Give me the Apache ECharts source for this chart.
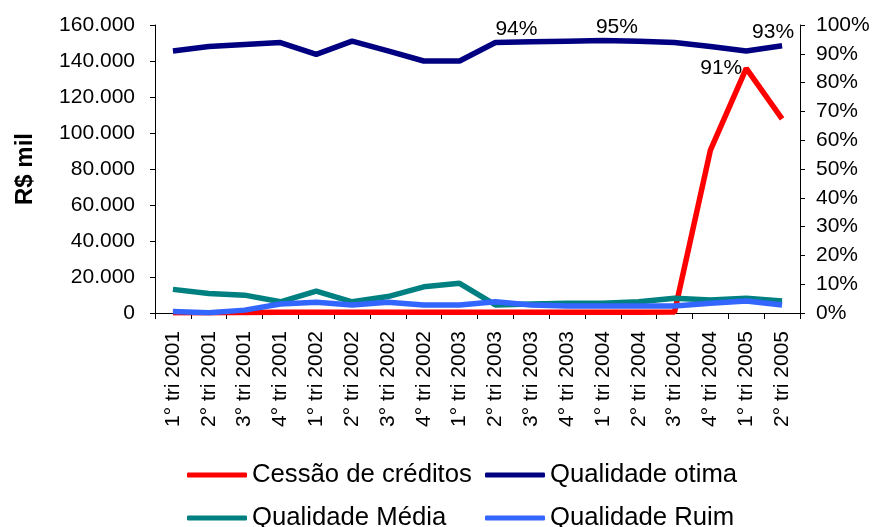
<!DOCTYPE html>
<html>
<head>
<meta charset="utf-8">
<script src="https://cdn.jsdelivr.net/npm/echarts@6/dist/echarts.min.js"></script>
<style>html,body{margin:0;padding:0;background:#fff}#c{width:873px;height:527px}</style>
</head>
<body>
<div id="c"></div>
<script>
const categories = ['1° tri 2001','2° tri 2001','3° tri 2001','4° tri 2001','1° tri 2002','2° tri 2002','3° tri 2002','4° tri 2002','1° tri 2003','2° tri 2003','3° tri 2003','4° tri 2003','1° tri 2004','2° tri 2004','3° tri 2004','4° tri 2004','1° tri 2005','2° tri 2005'];
const cessao = [200,200,300,400,400,400,400,400,400,400,400,400,400,400,600,90500,135900,107800];
const otima = [91.0,92.5,93.2,93.9,89.8,94.4,91.0,87.5,87.5,93.9,94.2,94.4,94.6,94.4,93.9,92.5,91.0,92.8];
const media = [8.2,6.8,6.2,3.9,7.6,3.9,5.7,9.1,10.3,2.8,3.1,3.4,3.4,3.9,5.1,4.5,5.1,4.2];
const ruim = [0.5,0.1,1.0,3.1,3.7,2.8,3.7,2.8,2.8,3.9,2.8,2.4,2.4,2.4,2.4,3.4,4.2,2.8];
const seriesNames = ['Cessão de créditos', 'Qualidade otima', 'Qualidade Média', 'Qualidade Ruim'];
const leftTicks = {min: 0, max: 160000, interval: 20000};
const rightTicks = {min: 0, max: 100, interval: 10};
const labelledOtima = [9, 12, 16, 17];

const FONT = 'Liberation Sans, Arial, sans-serif';
const labelStyle = {
  9: {position: 'top', offset: [21, 2]},
  12: {position: 'top', offset: [14, 2]},
  16: {position: 'bottom', offset: [-25, 2]},
  17: {position: 'top', offset: [-9, 2]}
};
const otimaData = otima.map((v, i) => {
  if (labelledOtima.indexOf(i) < 0) return v;
  return {value: v, label: Object.assign({show: true, fontSize: 21, color: '#000', fontFamily: FONT,
    formatter: p => Math.round(p.value) + '%'}, labelStyle[i])};
});

// legend grid: [left, top] per item
const legendPos = [[187, 460], [485, 460], [187, 503], [485, 503]];
const legends = seriesNames.map((n, i) => ({
  data: [n], orient: 'horizontal', left: legendPos[i][0], top: legendPos[i][1],
  itemWidth: 60, itemHeight: 5, icon: 'roundRect', padding: 0,
  textStyle: {fontSize: 25.7, color: '#000', fontFamily: FONT, lineHeight: 30}
}));

const chart = echarts.init(document.getElementById('c'));
const axisLine = {show: true, lineStyle: {color: '#000', width: 1}};
chart.setOption({
  animation: false,
  textStyle: {fontFamily: FONT},
  grid: {left: 155, right: 73, top: 25, bottom: 214},
  legend: legends,
  xAxis: {
    type: 'category', data: categories, boundaryGap: true,
    axisLine: axisLine,
    axisTick: {show: true, length: 6, alignWithLabel: false, lineStyle: {color: '#000'}},
    axisLabel: {interval: 0, rotate: 90, fontSize: 21, color: '#000', margin: 18, fontFamily: FONT},
    splitLine: {show: false}
  },
  yAxis: [
    {type: 'value', min: leftTicks.min, max: leftTicks.max, interval: leftTicks.interval,
     name: 'R$ mil', nameLocation: 'middle', nameRotate: 90, nameGap: 118,
     nameTextStyle: {fontSize: 24, fontWeight: 'bold', color: '#000', fontFamily: FONT},
     axisLine: axisLine,
     axisTick: {show: true, length: 5, lineStyle: {color: '#000'}},
     axisLabel: {fontSize: 21, color: '#000', margin: 20, fontFamily: FONT,
       formatter: v => v === 0 ? '0' : (v / 1000) + '.000'},
     splitLine: {show: false}},
    {type: 'value', min: rightTicks.min, max: rightTicks.max, interval: rightTicks.interval,
     position: 'right',
     axisLine: axisLine,
     axisTick: {show: true, length: 5, lineStyle: {color: '#000'}},
     axisLabel: {fontSize: 21, color: '#000', margin: 16, fontFamily: FONT, formatter: '{value}%'},
     splitLine: {show: false}}
  ],
  series: [
    {name: seriesNames[0], type: 'line', yAxisIndex: 0, data: cessao, symbol: 'none',
     itemStyle: {color: '#FF0000'}, lineStyle: {color: '#FF0000', width: 5.5}},
    {name: seriesNames[1], type: 'line', yAxisIndex: 1, data: otimaData, symbol: 'circle', symbolSize: 0,
     showSymbol: true, z: 3,
     itemStyle: {color: '#000080'}, lineStyle: {color: '#000080', width: 5.5}},
    {name: seriesNames[2], type: 'line', yAxisIndex: 1, data: media, symbol: 'none',
     itemStyle: {color: '#008080'}, lineStyle: {color: '#008080', width: 5.5}},
    {name: seriesNames[3], type: 'line', yAxisIndex: 1, data: ruim, symbol: 'none',
     itemStyle: {color: '#3366FF'}, lineStyle: {color: '#3366FF', width: 5.5}}
  ]
});
</script>
</body>
</html>
